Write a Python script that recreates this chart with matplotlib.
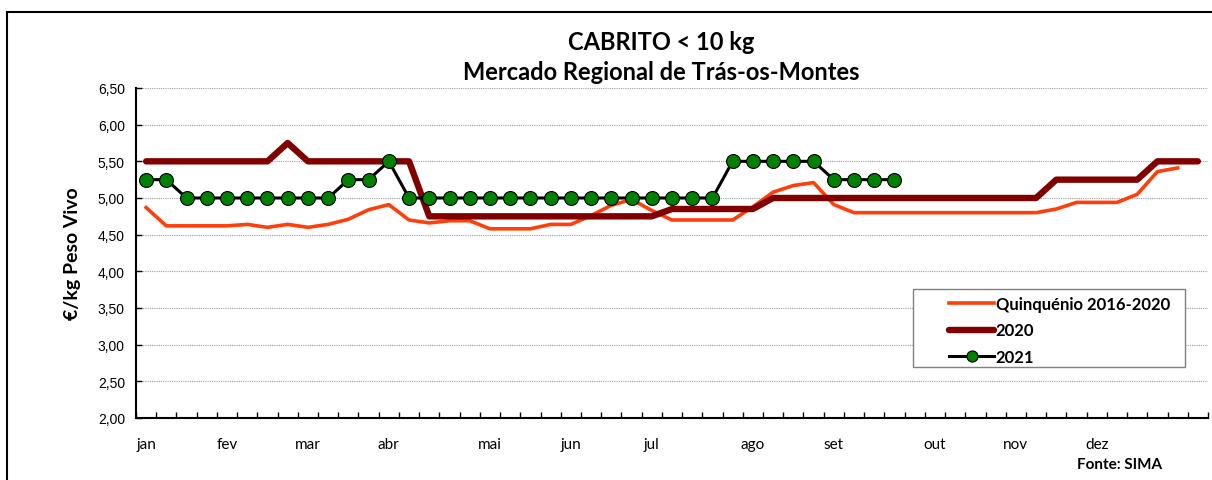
import matplotlib
matplotlib.use("Agg")
import matplotlib.pyplot as plt
from matplotlib.patches import Rectangle

# weekly categories (53 weeks), month labels on the first week of each month
month_labels = ["jan", "fev", "mar", "abr", "mai", "jun",
                "jul", "ago", "set", "out", "nov", "dez"]
month_weeks = [0, 4, 8, 12, 17, 21, 25, 30, 34, 39, 43, 47]
n_weeks = 53

quinquenio = [4.87, 4.62, 4.62, 4.62, 4.62, 4.64, 4.60, 4.64, 4.60, 4.64,
              4.71, 4.84, 4.91, 4.70, 4.66, 4.69, 4.69, 4.58, 4.58, 4.58,
              4.64, 4.64, 4.76, 4.90, 4.98, 4.83, 4.70, 4.70, 4.70, 4.70,
              4.88, 5.08, 5.17, 5.21, 4.91, 4.80, 4.80, 4.80, 4.80, 4.80,
              4.80, 4.80, 4.80, 4.80, 4.80, 4.85, 4.94, 4.94, 4.94, 5.05,
              5.36, 5.41]
ano_2020 = [5.50, 5.50, 5.50, 5.50, 5.50, 5.50, 5.50, 5.75, 5.50, 5.50,
            5.50, 5.50, 5.50, 5.50, 4.75, 4.75, 4.75, 4.75, 4.75, 4.75,
            4.75, 4.75, 4.75, 4.75, 4.75, 4.75, 4.85, 4.85, 4.85, 4.85,
            4.85, 5.00, 5.00, 5.00, 5.00, 5.00, 5.00, 5.00, 5.00, 5.00,
            5.00, 5.00, 5.00, 5.00, 5.00, 5.25, 5.25, 5.25, 5.25, 5.25,
            5.50, 5.50, 5.50]
ano_2021 = [5.25, 5.25, 5.00, 5.00, 5.00, 5.00, 5.00, 5.00, 5.00, 5.00,
            5.25, 5.25, 5.50, 5.00, 5.00, 5.00, 5.00, 5.00, 5.00, 5.00,
            5.00, 5.00, 5.00, 5.00, 5.00, 5.00, 5.00, 5.00, 5.00, 5.50,
            5.50, 5.50, 5.50, 5.50, 5.25, 5.25, 5.25, 5.25]

y_ticks = [2.0, 2.5, 3.0, 3.5, 4.0, 4.5, 5.0, 5.5, 6.0, 6.5]

W, H = 1212, 481
fig = plt.figure(figsize=(W / 100, H / 100), dpi=100)
ax = fig.add_axes([136 / W, 1 - 419 / H, (1208 - 136) / W, (419 - 89) / H])

# outer frame of the chart (cut by the image on the right and bottom)
fig.patches.append(Rectangle((7 / W, -0.05), 1.2, 1 - 13 / H + 0.05,
                             transform=fig.transFigure, fill=False,
                             edgecolor="black", linewidth=1.5))

ax.plot(range(len(quinquenio)), quinquenio, color="#ff3f0a", linewidth=2.6,
        label="Quinquénio 2016-2020", zorder=3)
ax.plot(range(len(ano_2020)), ano_2020, color="#800000", linewidth=4.6,
        label="2020", zorder=4, solid_capstyle="round")
ax.plot(range(len(ano_2021)), ano_2021, color="black", linewidth=2.2,
        marker="o", markersize=10, markerfacecolor="#008000",
        markeredgecolor="black", markeredgewidth=0.8, label="2021", zorder=5)

ax.set_xlim(-0.5, n_weeks - 0.5)
ax.set_ylim(2.0, 6.5)

ax.set_yticks(y_ticks)
ax.set_yticklabels([f"{v:.2f}".replace(".", ",") for v in y_ticks],
                   fontfamily="Liberation Sans", fontsize=10)
ax.tick_params(axis="y", direction="in", length=4, width=1, pad=8)

ax.set_xticks(month_weeks)
ax.set_xticklabels(month_labels, fontfamily="Lato", fontsize=11)
ax.set_xticks([i - 0.5 for i in range(n_weeks + 1)], minor=True)
ax.tick_params(axis="x", which="major", length=0, pad=14)
ax.tick_params(axis="x", which="minor", direction="in", length=4, width=1)

ax.grid(axis="y", color="#a0a0a0", linestyle=(0, (1, 1)), linewidth=0.8)
ax.set_axisbelow(True)

for side in ["top", "right"]:
    ax.spines[side].set_visible(False)
ax.spines["left"].set_linewidth(1.5)
ax.spines["bottom"].set_linewidth(1.5)

ax.set_ylabel("€/kg Peso Vivo", fontfamily="Lato", fontweight="bold",
              fontsize=14, labelpad=12)

fig.text(661 / W, 1 - 42 / H, "CABRITO < 10 kg", ha="center", va="center",
         fontfamily="Lato", fontweight="bold", fontsize=17)
fig.text(661 / W, 1 - 72 / H, "Mercado Regional de Trás-os-Montes",
         ha="center", va="center", fontfamily="Lato", fontweight="bold",
         fontsize=17)
fig.text(1162 / W, 1 - 465 / H, "Fonte: SIMA", ha="right", va="center",
         fontfamily="Lato", fontweight="bold", fontsize=11)

# legend box drawn as a white rectangle under a frameless legend
ax.add_patch(Rectangle((913 / W, 1 - 368 / H), (1185 - 913) / W,
                       (368 - 290) / H, transform=fig.transFigure,
                       facecolor="white", edgecolor="#808080",
                       linewidth=1.0, zorder=2, clip_on=False))
leg = ax.legend(loc="upper left", bbox_to_anchor=(944 / W, 1 - 292 / H),
                bbox_transform=fig.transFigure, frameon=False,
                handlelength=2.7, handletextpad=0.1, borderaxespad=0,
                borderpad=0.3, labelspacing=0.62,
                prop={"family": "Lato", "weight": "bold", "size": 12})
leg.set_zorder(6)
for line in leg.get_lines():
    line.set_markersize(8)

fig.savefig("out.png", dpi=100)
